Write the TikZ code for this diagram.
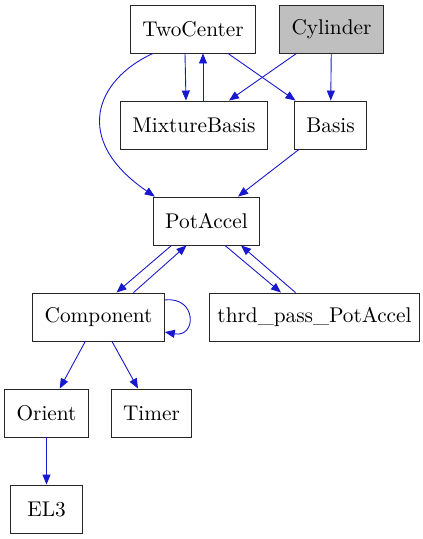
\documentclass[tikz,border=0pt]{standalone}
\usepackage{fontspec}
\usepackage{xcolor}
\usepackage{tikz}
\usetikzlibrary{arrows.meta, positioning, calc}

\newfontfamily\nodefont{lmroman10-regular}[Extension=.otf]
\definecolor{edgeblue}{RGB}{24,24,206}
\definecolor{hlgray}{RGB}{191,191,191}

\begin{document}
\begin{tikzpicture}[
    x=1pt, y=-1pt,
    cls/.style={rectangle, draw=black!85, fill=white, line width=0.9pt, inner xsep=12pt, minimum height=48pt, minimum width=72pt, font=\nodefont\fontsize{21.3}{25}\selectfont},
    hcls/.style={cls, fill=hlgray},
    arr/.style={-{Triangle[length=10pt, width=8pt]}, line width=0.9pt, color=edgeblue}
]
\useasboundingbox (0,0) rectangle (423,539);

\node[cls] (twocenter) at (193,29) {TwoCenter};
\node[hcls] (cylinder) at (331.5,29) {Cylinder};
\node[cls] (mixture) at (194,125) {MixtureBasis};
\node[cls] (basis) at (330.5,125) {Basis};
\node[cls] (potaccel) at (206.5,221) {PotAccel};
\node[cls] (component) at (98.5,317) {Component};
\node[cls, inner xsep=8pt] (thrd) at (314.5,317) {thrd\_pass\_PotAccel};
\node[cls] (orient) at (46.5,413) {Orient};
\node[cls] (timer) at (151.5,413) {Timer};
\node[cls] (el3) at (46.5,509) {EL3};

\draw[arr] ([xshift=-8pt]twocenter.south) -- ([xshift=-8pt]mixture.north);
\draw[arr] ([xshift=9pt]mixture.north) -- ([xshift=10pt]twocenter.south);
\draw[arr] (twocenter) -- (basis);
\draw[arr] ([xshift=23pt]twocenter.south west) .. controls (95,80) and (72,140) .. ([xshift=2pt]potaccel.north west);
\draw[arr] (cylinder) -- (mixture);
\draw[arr] (cylinder) -- (basis);
\draw[arr] (basis) -- (potaccel);
\draw[arr] ([xshift=-35pt]potaccel.south) -- ([xshift=18pt]component.north);
\draw[arr] ([xshift=35pt]component.north) -- ([xshift=-20pt]potaccel.south);
\draw[arr] ([xshift=18.5pt]potaccel.south) -- ([xshift=-33.5pt]thrd.north);
\draw[arr] ([xshift=-19pt]thrd.north) -- ([xshift=34.5pt]potaccel.south);
\draw[arr] ([yshift=17pt]component.east) .. controls (197,296) and (197,338) .. ([yshift=-15pt]component.east);
\draw[arr] (component) -- (orient);
\draw[arr] (component) -- (timer);
\draw[arr] (orient) -- (el3);

\end{tikzpicture}
\end{document}
